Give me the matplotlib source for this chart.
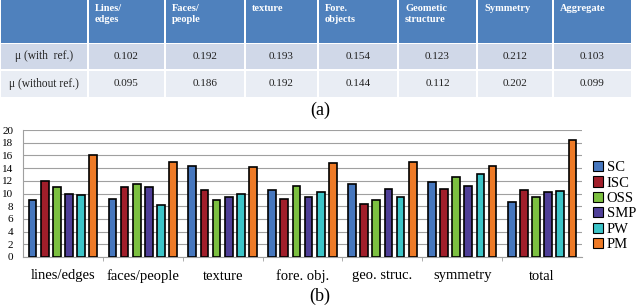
import matplotlib
matplotlib.use("Agg")
import matplotlib.pyplot as plt
import numpy as np
from matplotlib.patches import Rectangle, Patch

# ── table (a) ─────────────────────────────────────────────
col_headers = ["Lines/\nedges", "Faces/\npeople", "texture", "Fore.\nobjects",
               "Geometic\nstructure", "Symmetry", "Aggregate"]
row_labels = ["\u03bc (with  ref.)", "\u03bc (without ref.)"]
mu_with_ref = ["0.102", "0.192", "0.193", "0.154", "0.123", "0.212", "0.103"]
mu_without_ref = ["0.095", "0.186", "0.192", "0.144", "0.112", "0.202", "0.099"]

# ── bar chart (b) ─────────────────────────────────────────
categories = ["lines/edges", "faces/people", "texture", "fore. obj.",
              "geo. struc.", "symmetry", "total"]
methods = ["SC", "ISC", "OSS", "SMP", "PW", "PM"]
SC = [9.0, 9.1, 14.4, 10.6, 11.5, 11.8, 8.6]
ISC = [12.0, 11.1, 10.5, 9.1, 8.3, 10.7, 10.6]
OSS = [11.1, 11.5, 9.0, 11.2, 9.0, 12.6, 9.4]
SMP = [10.0, 11.1, 9.4, 9.4, 10.7, 11.2, 10.3]
PW = [9.7, 8.2, 10.0, 10.2, 9.5, 13.1, 10.4]
PM = [16.0, 15.0, 14.2, 14.8, 15.0, 14.4, 18.4]
series = [SC, ISC, OSS, SMP, PW, PM]
colors = ["#4677BE", "#A11E2A", "#7CC040", "#4F3F98", "#3CC4C8", "#EE7A26"]

SERIF = ["Liberation Serif", "DejaVu Serif"]
plt.rcParams["font.family"] = SERIF

W, H = 640, 308
fig = plt.figure(figsize=(W / 100, H / 100), dpi=100)

# table drawn in pixel coordinates
tax = fig.add_axes([0, 0, 1, 1])
tax.set_xlim(0, W)
tax.set_ylim(H, 0)
tax.axis("off")

col_x = [0, 88, 165, 245, 318, 398, 477, 553, 632]
row_y = [(0, 43), (44, 69), (71, 97)]
row_colors = ["#4F81BD", "#D0D8E8", "#E9EDF4"]
for r, (y0, y1) in enumerate(row_y):
    for c in range(len(col_x) - 1):
        x0, x1 = col_x[c], col_x[c + 1]
        tax.add_patch(Rectangle((x0 + 0.75, y0), x1 - x0 - 1.5, y1 - y0,
                                facecolor=row_colors[r], edgecolor="none"))

for c, txt in enumerate(col_headers):
    tax.text(col_x[c + 1] + 7, 4, txt, ha="left", va="top", color="white",
             fontsize=7.5, fontweight="bold", linespacing=1.3)

for r, (label, vals) in enumerate(zip(row_labels, [mu_with_ref, mu_without_ref])):
    y0, y1 = row_y[r + 1]
    yc = (y0 + y1) / 2
    tax.text(col_x[1] / 2, yc, label, ha="center", va="center", fontsize=8.3, color="#222222")
    for c, v in enumerate(vals):
        xc = (col_x[c + 1] + col_x[c + 2]) / 2
        tax.text(xc, yc, v, ha="center", va="center", fontsize=8, color="#222222")

tax.text(320, 110, "(a)", ha="center", va="center", fontsize=13)
tax.text(320, 296, "(b)", ha="center", va="center", fontsize=13)

# bar chart
ax = fig.add_axes([23 / W, (H - 257) / H, 559 / W, 127 / H])
x = np.arange(len(categories))
step = 0.152
bw = 0.096
for i, (vals, col, name) in enumerate(zip(series, colors, methods)):
    ax.bar(x + (i - 2.5) * step, vals, width=bw, color=col, edgecolor="black",
           linewidth=1.2, label=name, zorder=3)

ax.set_xlim(-0.5, len(categories) - 0.5)
ax.set_ylim(0, 20)
ax.set_yticks(np.arange(0, 21, 2))
ax.yaxis.grid(True, color="#A0A0A0", linewidth=0.8, zorder=0)
ax.set_xticks(x)
ax.set_xticklabels(categories, fontsize=10.5)
ax.set_xticks(np.arange(0.5, len(categories) - 0.5, 1), minor=True)
ax.tick_params(axis="x", which="major", length=0, pad=9)
ax.tick_params(axis="x", which="minor", length=3, color="#A0A0A0")
ax.tick_params(axis="y", length=0, labelsize=8, pad=7)
for s in ["top", "right"]:
    ax.spines[s].set_visible(False)
ax.spines["left"].set_color("#A0A0A0")
ax.spines["bottom"].set_color("#A0A0A0")

handles = [Patch(facecolor=c, edgecolor="black", linewidth=0.8) for c in colors]
fig.legend(handles, methods, loc="upper left", bbox_to_anchor=(593 / W, 1 - 161 / H),
           frameon=False, fontsize=10.5, handlelength=0.7, handleheight=0.7,
           handletextpad=0.25, labelspacing=0.15, borderaxespad=0, borderpad=0)

fig.savefig("out.png", dpi=100)
